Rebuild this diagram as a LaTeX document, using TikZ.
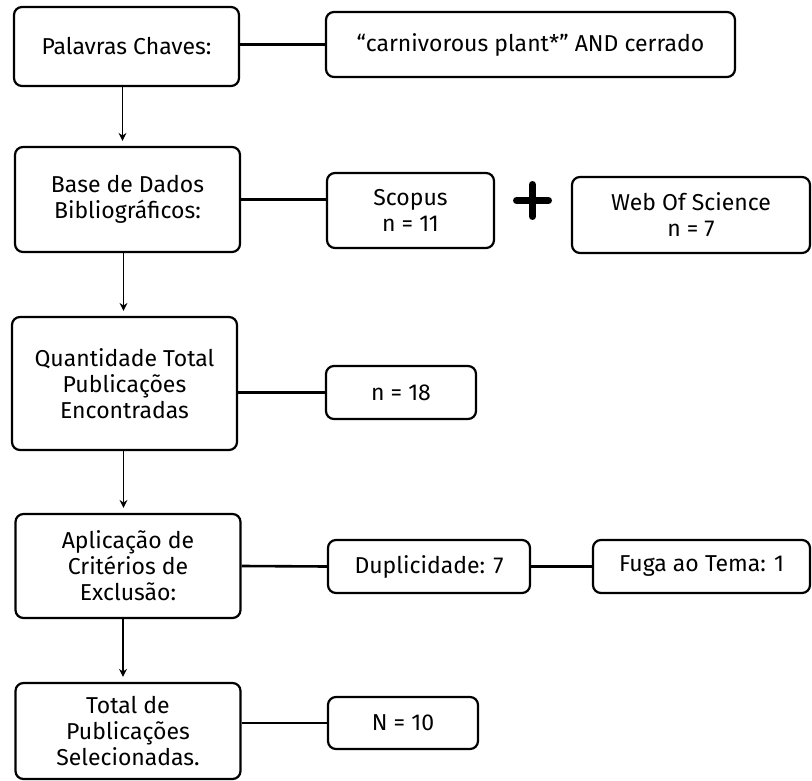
\documentclass[tikz,border=0pt]{standalone}
\usepackage{fontspec}
\setmainfont{Fira Sans}
\usetikzlibrary{arrows.meta, positioning}

\begin{document}
\begin{tikzpicture}[x=1pt, y=-1pt,
    box/.style={rectangle, rounded corners=8pt, draw=black, line width=2.2pt, fill=white,
      align=center, inner sep=0pt, font=\fontsize{23}{26}\selectfont},
    link/.style={line width=2.6pt},
    darr/.style={-{Stealth[length=8pt,width=8pt]}, line width=1.4pt, shorten >=5pt}
  ]
  \useasboundingbox (0,0) rectangle (812,781);

  % left column
  \node[box, minimum width=225, minimum height=79]  (kw)    at (126.5,46.5) {Palavras Chaves:};
  \node[box, minimum width=225, minimum height=105] (base)  at (127.5,199.5) {Base de Dados\\Bibliográficos:};
  \node[box, minimum width=225, minimum height=133] (quant) at (124.5,383.5) {Quantidade Total\\Publicações\\Encontradas};
  \node[box, minimum width=225, minimum height=104] (excl)  at (128,566) {Aplicação de\\Critérios de\\Exclusão:};
  \node[box, minimum width=225, minimum height=96]  (total) at (128,731) {Total de\\Publicações\\Selecionadas.};

  % right side
  \node[box, minimum width=409, minimum height=65] (query)  at (530.5,44.5) {“carnivorous plant*” AND cerrado};
  \node[box, minimum width=167, minimum height=75] (scopus) at (410.5,210.5) {Scopus\\n = 11};
  \node[box, minimum width=238, minimum height=76] (wos)    at (691,215) {Web Of Science\\n = 7};
  \node[box, minimum width=150, minimum height=53] (n18)    at (401,392.5) {n = 18};
  \node[box, minimum width=202, minimum height=53] (dup)    at (429,566.5) {Duplicidade: 7};
  \node[box, minimum width=217, minimum height=53] (fuga)   at (701.5,566.5) {Fuga ao Tema: 1};
  \node[box, minimum width=150, minimum height=52] (n10)    at (403,723) {N = 10};

  % plus sign
  \coordinate (plus) at (532.5,200.5);
  \draw[line width=7pt, line cap=round] ([xshift=-16pt]plus) -- ([xshift=16pt]plus)
    ([yshift=-16pt]plus) -- ([yshift=16pt]plus);

  % links
  \draw[link] (kw.east |- query) -- (query.west);
  \draw[link] (base.east) -- (base.east -| scopus.west);
  \draw[link] (quant.east |- n18) -- (n18.west);
  \draw[link] (excl.east) -- (dup.west);
  \draw[link] (dup.east) -- (fuga.west);
  \draw[link] (total.east |- n10) -- (n10.west);

  % flow
  \draw[darr] ([xshift=-4pt]kw.south)    -- ([xshift=-4pt]kw.south |- base.north);
  \draw[darr] ([xshift=-4pt]base.south)  -- ([xshift=-4pt]base.south |- quant.north);
  \draw[darr] ([xshift=-1pt]quant.south) -- ([xshift=-1pt]quant.south |- excl.north);
  \draw[darr] ([xshift=-5pt]excl.south)  -- ([xshift=-5pt]excl.south |- total.north);
\end{tikzpicture}
\end{document}
